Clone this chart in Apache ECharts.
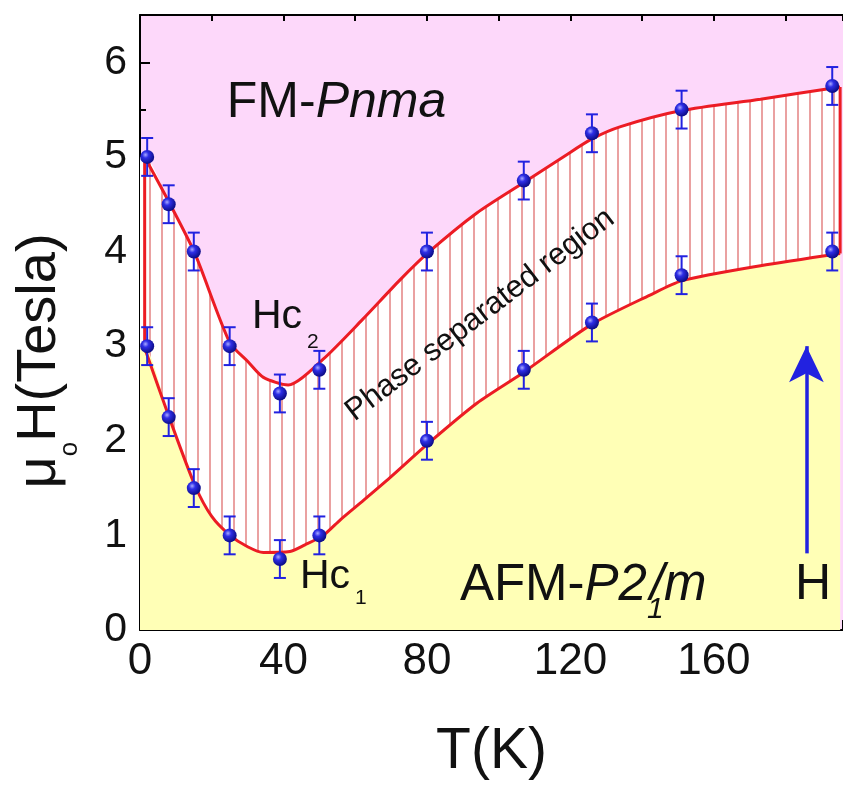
<!DOCTYPE html>
<html>
<head>
<meta charset="utf-8">
<script src="https://cdn.jsdelivr.net/npm/echarts@6/dist/echarts.min.js"></script>
<style>
  html, body { margin: 0; padding: 0; background: #ffffff; }
  #chart { width: 843px; height: 785px; }
</style>
</head>
<body>
<div id="chart"></div>
<script>
// Measured critical fields (Tesla) versus temperature (K)
const tempK    = [2, 8, 15, 25, 39, 50, 80, 107, 126, 151, 193];
const hc2Tesla = [5.0, 4.5, 4.0, 3.0, 2.5, 2.75, 4.0, 4.75, 5.25, 5.5, 5.75];
const hc1Tesla = [3.0, 2.25, 1.5, 1.0, 0.75, 1.0, 2.0, 2.75, 3.25, 3.75, 4.0];
const errTesla = [0.2, 0.2, 0.2, 0.2, 0.2, 0.2, 0.2, 0.2, 0.2, 0.2, 0.2];

// Guide lines bounding the phase separated region
const upperBoundT = [1.3, 8.4, 15.3, 25, 30, 34.4, 41.3, 51, 62, 72.5, 80.4, 94, 107, 118, 126, 134, 151, 173, 195.2];
const upperBoundH = [5.0, 4.5, 3.98, 3.04, 2.84, 2.67, 2.59, 2.86, 3.28, 3.7, 3.99, 4.41, 4.73, 5.0, 5.19, 5.32, 5.49, 5.61, 5.74];
const lowerBoundT = [1.3, 8.4, 15.3, 20, 25.1, 30, 34.4, 41.8, 46, 51.1, 56, 62.3, 69.7, 80.6, 94, 106.8, 125.9, 142.2, 151, 173, 195.2];
const lowerBoundH = [2.98, 2.22, 1.53, 1.2, 1.0, 0.88, 0.82, 0.83, 0.9, 1.0, 1.17, 1.37, 1.61, 1.98, 2.4, 2.72, 3.23, 3.54, 3.69, 3.85, 3.98];

// Field arrow
const arrowT = 185.8;
const arrowFromH = 0.81;
const arrowToH = 3.0;

// Axis tick labels
const xTickLabels = [0, 40, 80, 120, 160];
const yTickLabels = [0, 1, 2, 3, 4, 5, 6];

const FONT = '"Liberation Sans", Arial, Helvetica, sans-serif';
const INK = '#111111';
const RED = '#ec1c24';
const BLUE = '#2222e0';

const zip = (a, b) => a.map((v, i) => [v, b[i]]);
const upperPts = zip(upperBoundT, upperBoundH);
const lowerPts = zip(lowerBoundT, lowerBoundH);

// vertical stripe fill for the coexistence region
function stripeCanvas() {
  const c = document.createElement('canvas');
  c.width = 12; c.height = 12;
  const g = c.getContext('2d');
  g.fillStyle = '#ffffff';
  g.fillRect(0, 0, 12, 12);
  g.fillStyle = 'rgba(222, 110, 110, 0.65)';
  g.fillRect(5, 0, 2, 12);
  return c;
}

const sphere = {
  type: 'radial', x: 0.38, y: 0.35, r: 0.65,
  colorStops: [
    { offset: 0, color: '#a8a8ff' },
    { offset: 0.35, color: '#2e2ee6' },
    { offset: 1, color: '#0c0c86' }
  ]
};

const chart = echarts.init(document.getElementById('chart'), null, { renderer: 'canvas' });

const errorData = [];
tempK.forEach((t, i) => {
  errorData.push([t, hc2Tesla[i], errTesla[i]]);
  errorData.push([t, hc1Tesla[i], errTesla[i]]);
});

const txt = (size, extra) => Object.assign({ fontSize: size, fontFamily: FONT, color: INK }, extra || {});

const notes = [
  { value: [54.8, 5.57], label: { formatter: '{r|FM-}{i|Pnma}', align: 'center',
      rich: { r: txt(50), i: txt(50, { fontStyle: 'italic' }) } } },
  { value: [31.2, 3.31], label: { formatter: '{r|Hc}{s|2}', align: 'left',
      rich: { r: txt(41), s: txt(21, { lineHeight: 21, padding: [50, 0, 0, 5] }) } } },
  { value: [44.6, 0.56], label: { formatter: '{r|Hc}{s|1}', align: 'left',
      rich: { r: txt(41), s: txt(21, { lineHeight: 21, padding: [42, 0, 0, 5] }) } } },
  { value: [89.2, 0.47], label: { formatter: '{r|AFM-}{i|P2}{s|1}{i|/m}', align: 'left',
      rich: { r: txt(51), i: txt(51, { fontStyle: 'italic' }),
              s: txt(30, { lineHeight: 30, width: 3, fontStyle: 'italic', padding: [48, 0, 0, 0] }) } } },
  { value: [182.6, 0.476], label: { formatter: '{r|H}', align: 'left', rich: { r: txt(50) } } },
  { value: [94.8, 3.33], label: { formatter: '{r|Phase separated region}', align: 'center', rotate: 37.4,
      rich: { r: txt(31) } } }
];

const option = {
  animation: false,
  backgroundColor: '#ffffff',
  textStyle: { fontFamily: FONT },
  grid: {
    left: 140, top: 15, width: 703, height: 615,
    outerBoundsMode: 'none', containLabel: false,
    show: true, backgroundColor: '#fdd8fa', borderWidth: 0
  },
  xAxis: [
    {
      type: 'value', min: 0, max: 196, interval: 40, position: 'bottom',
      axisLine: { show: true, onZero: false, lineStyle: { color: '#000', width: 2 } },
      axisTick: { inside: true, length: 10, lineStyle: { color: '#000', width: 2 } },
      axisLabel: { fontSize: 44, margin: 10, color: INK, fontFamily: FONT,
                   formatter: v => (xTickLabels.includes(v) ? String(v) : '') },
      splitLine: { show: false },
      name: 'T(K)', nameLocation: 'middle', nameGap: 94,
      nameTextStyle: { fontSize: 57, color: INK, fontFamily: FONT }
    },
    {
      type: 'value', min: 0, max: 196, interval: 20, position: 'bottom',
      axisLine: { show: false, onZero: false },
      axisTick: { inside: true, length: 6, lineStyle: { color: '#000', width: 2 } },
      axisLabel: { show: false }, splitLine: { show: false }
    },
    {
      type: 'value', min: 0, max: 196, interval: 20, position: 'top',
      axisLine: { show: true, onZero: false, lineStyle: { color: '#000', width: 2 } },
      axisTick: { inside: true, length: 6, lineStyle: { color: '#000', width: 2 } },
      axisLabel: { show: false }, splitLine: { show: false }
    }
  ],
  yAxis: [
    {
      type: 'value', min: 0, max: 6.5, interval: 1, position: 'left',
      axisLine: { show: true, onZero: false, lineStyle: { color: '#000', width: 2 } },
      axisTick: { inside: true, length: 10, lineStyle: { color: '#000', width: 2 } },
      axisLabel: { fontSize: 41, margin: 13, color: INK, fontFamily: FONT,
                   formatter: v => (yTickLabels.includes(v) ? String(v) : '') },
      splitLine: { show: false },
      name: '{mu|μ}{o|o}{h|H(Tesla)}', nameLocation: 'middle', nameGap: 72,
      nameTextStyle: {
        fontSize: 56, color: INK, fontFamily: FONT, padding: [0, 77, 0, 0],
        rich: {
          mu: txt(56),
          o: txt(26, { lineHeight: 26, padding: [60, 0, 0, 0] }),
          h: txt(56)
        }
      }
    },
    {
      type: 'value', min: 0, max: 6.5, interval: 0.5, position: 'left',
      axisLine: { show: false, onZero: false },
      axisTick: { inside: true, length: 6, lineStyle: { color: '#000', width: 2 } },
      axisLabel: { show: false }, splitLine: { show: false }
    }
  ],
  series: [
    {
      name: 'coexistence fill', type: 'line', z: 1, silent: true, smooth: 0.25,
      symbol: 'none', lineStyle: { width: 0, opacity: 0 },
      areaStyle: { color: { image: stripeCanvas(), repeat: 'repeat' }, opacity: 1 },
      data: [[0, upperBoundH[0]]].concat(upperPts)
    },
    {
      name: 'AFM fill', type: 'line', z: 2, silent: true, smooth: 0.25,
      symbol: 'none', lineStyle: { width: 0, opacity: 0 },
      areaStyle: { color: '#ffffb6', opacity: 1 },
      data: [[0, lowerBoundH[0]]].concat(lowerPts)
    },
    {
      name: 'Hc2 boundary', type: 'line', z: 3, silent: true, smooth: 0.25,
      symbol: 'none', lineStyle: { color: RED, width: 3 }, data: upperPts
    },
    {
      name: 'Hc1 boundary', type: 'line', z: 3, silent: true, smooth: 0.25,
      symbol: 'none', lineStyle: { color: RED, width: 3 }, data: lowerPts
    },
    {
      name: 'low-T edge', type: 'line', z: 3, silent: true, symbol: 'none',
      lineStyle: { color: RED, width: 3 }, data: [lowerPts[0], upperPts[0]]
    },
    {
      name: 'high-T edge', type: 'line', z: 3, silent: true, symbol: 'none',
      lineStyle: { color: RED, width: 3 },
      data: [lowerPts[lowerPts.length - 1], upperPts[upperPts.length - 1]]
    },
    {
      name: 'error bars', type: 'custom', z: 4, silent: true,
      data: errorData,
      renderItem: function (params, api) {
        const t = api.value(0), h = api.value(1), e = api.value(2);
        const lo = api.coord([t, h - e]);
        const hi = api.coord([t, h + e]);
        const cap = 6;
        const style = { stroke: BLUE, lineWidth: 2 };
        return {
          type: 'group',
          children: [
            { type: 'line', shape: { x1: lo[0], y1: lo[1], x2: hi[0], y2: hi[1] }, style: style },
            { type: 'line', shape: { x1: lo[0] - cap, y1: lo[1], x2: lo[0] + cap, y2: lo[1] }, style: style },
            { type: 'line', shape: { x1: hi[0] - cap, y1: hi[1], x2: hi[0] + cap, y2: hi[1] }, style: style }
          ]
        };
      }
    },
    {
      name: 'Hc2', type: 'scatter', z: 5, silent: true, symbol: 'circle', symbolSize: 14,
      itemStyle: { color: sphere, opacity: 1 }, data: zip(tempK, hc2Tesla)
    },
    {
      name: 'Hc1', type: 'scatter', z: 5, silent: true, symbol: 'circle', symbolSize: 14,
      itemStyle: { color: sphere, opacity: 1 }, data: zip(tempK, hc1Tesla)
    },
    {
      name: 'labels', type: 'scatter', z: 6, silent: true, symbolSize: 1,
      itemStyle: { color: 'rgba(0,0,0,0)', opacity: 1 },
      label: { show: true, position: 'inside', verticalAlign: 'middle', color: INK, fontFamily: FONT },
      data: notes,
      markLine: {
        silent: true, symbol: ['none', 'arrow'], symbolSize: [26, 36],
        lineStyle: { color: BLUE, width: 3.5, type: 'solid', opacity: 1 },
        label: { show: false },
        data: [[{ coord: [arrowT, arrowFromH] }, { coord: [arrowT, arrowToH] }]]
      }
    }
  ]
};

chart.setOption(option);
</script>
</body>
</html>
